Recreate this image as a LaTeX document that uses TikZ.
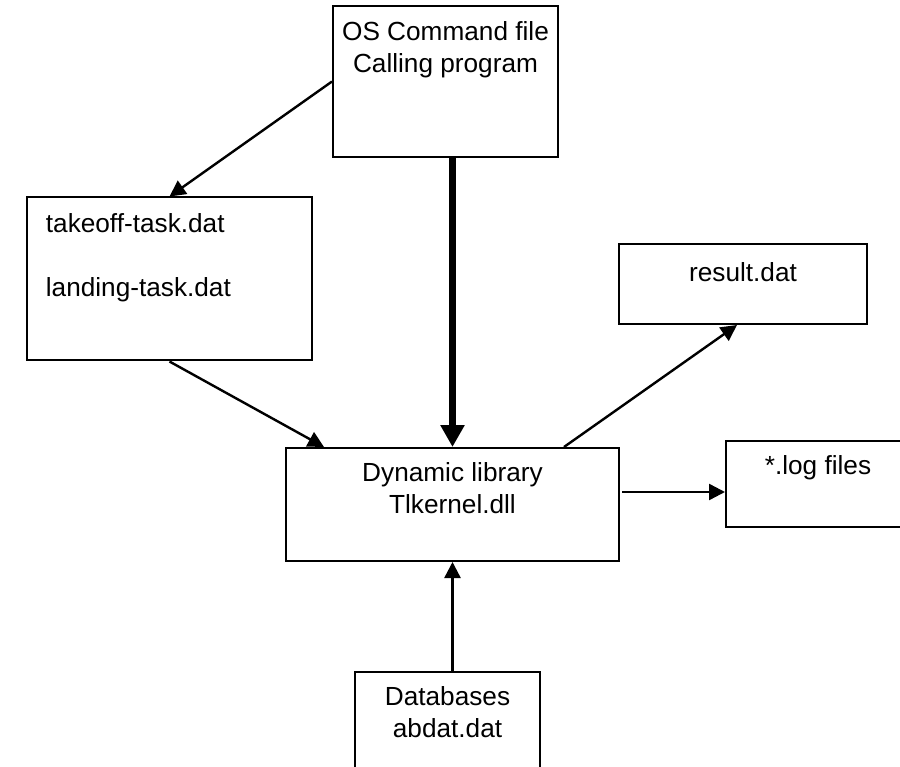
\documentclass[tikz,border=0pt]{standalone}
\usepackage{fontspec}
\setmainfont{Liberation Sans}
\usetikzlibrary{arrows.meta}
\usetikzlibrary{positioning}

\tikzset{
  box/.style={draw, line width=2pt, inner sep=0pt},
  lbl/.style={font=\fontsize{26.2}{32}\selectfont, inner sep=0pt, align=center},
  link/.style={line width=2.4pt, -{Triangle[length=16pt,width=16pt]}},
  bigl/.style={line width=7.5pt, -{Triangle[length=22pt,width=23pt]}}
}

\begin{document}
\begin{tikzpicture}[x=1pt,y=-1pt]
\useasboundingbox (0,0) rectangle (900,767);
\clip (0,0) rectangle (900,767);

\node [box, minimum width=225pt, minimum height=151pt] (os) at (445.5,81.5) {};
\node [box, minimum width=285pt, minimum height=163pt] (tasks) at (169.5,279) {};
\node [box, minimum width=248pt, minimum height=80pt] (result) at (743,284) {};
\node [box, minimum width=333pt, minimum height=113pt] (dll) at (452.5,504.5) {};
\node [box, minimum width=184pt, minimum height=86pt] (logs) at (818,484) {};
\node [box, minimum width=185pt, minimum height=128pt] (db) at (447.5,736) {};

\node [lbl, below=16pt of os.north] (ostxt) {OS Command file\\Calling program};
\node [lbl, align=left, below right=16.8pt and 19.7pt of tasks.north west] (taskstxt) {takeoff-task.dat\\[32pt]landing-task.dat};
\node [lbl, below=19pt of result.north] (resulttxt) {result.dat};
\node [lbl, below=15.7pt of dll.north] (dlltxt) {Dynamic library\\Tlkernel.dll};
\node [lbl, below=15.7pt of logs.north] (logstxt) {*.log files};
\node [lbl, below=15.5pt of db.north] (dbtxt) {Databases\\abdat.dat};

\draw [link] (os.west) -- (tasks.north);
\draw [bigl] (dll.north |- os.south) -- (dll.north);
\draw [link] (tasks.south) -- ([xshift=39pt]dll.north west);
\draw [link] ([xshift=-56pt]dll.north east) -- ([xshift=-6pt]result.south);
\draw [link] ([xshift=2pt,yshift=12.5pt]dll.east) -- ([yshift=12.5pt]dll.east -| logs.west);
\draw [link] (dll.south |- db.north) -- (dll.south);
\end{tikzpicture}
\end{document}
